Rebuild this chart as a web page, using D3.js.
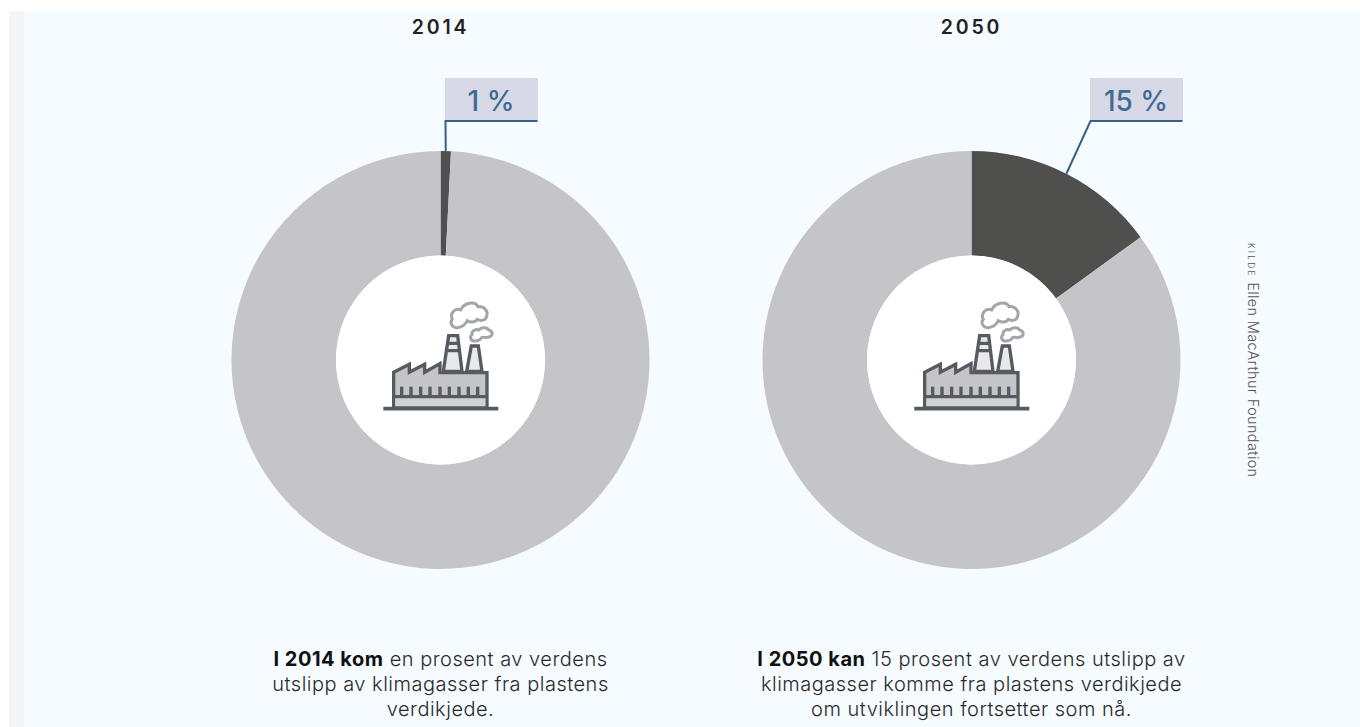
<!DOCTYPE html>
<html><head><meta charset="utf-8">
<script src="https://cdn.jsdelivr.net/npm/d3@7"></script>
<style>html,body{margin:0;padding:0;background:#fff}svg{display:block}text{font-family:Inter,sans-serif}</style>
</head><body><div id="c"></div>
<script>
const years = ["2014","2050"];
const shares = [0.8,15];
const labels = ["1 %","15 %"];
const captionBold = ["I 2014 kom","I 2050 kan"];
const captionFirst = [" en prosent av verdens"," 15 prosent av verdens utslipp av"];
const captionRest = [["utslipp av klimagasser fra plastens","verdikjede."],["klimagasser komme fra plastens verdikjede","om utviklingen fortsetter som nå."]];
const W=1360,H=727;
const svg=d3.select("#c").append("svg").attr("width",W).attr("height",H);
svg.append("rect").attr("x",9).attr("y",11).attr("width",15).attr("height",H-11).attr("fill","#f5f5f5");
svg.append("rect").attr("x",24).attr("y",11).attr("width",W-24).attr("height",H-11).attr("fill","#f6fbff");
const cxScale=d3.scaleOrdinal().domain(years).range([440.5,971.5]);
const pie=d3.pie().sort(null).value(d=>d);
const arc=d3.arc().innerRadius(104.5).outerRadius(209);
const leaderArc=d3.arc().innerRadius(209).outerRadius(209);
const boxX=[445,1090];
function icon(g){
  const c="#555b61", s=10;
  const ic=g.append("g").attr("transform","translate(-80.5,-80) scale(0.3333)").attr("stroke-linejoin","miter");
  ic.append("path").attr("d","M250 274L266 167H293L306 274Z").attr("fill","#e9e9eb").attr("stroke",c).attr("stroke-width",s);
  ic.append("path").attr("d","M262 190H297M258 212H301").attr("stroke",c).attr("stroke-width",s).attr("fill","none");
  ic.append("path").attr("d","M320 274L334 198H355L366 274Z").attr("fill","#e9e9eb").attr("stroke",c).attr("stroke-width",s);
  ic.append("path").attr("d","M101 383V277L148 253V277L194 253V277L240 251V278H381V383Z").attr("fill","#c5c5c9").attr("stroke",c).attr("stroke-width",s);
  ic.append("rect").attr("x",106).attr("y",354).attr("width",270).attr("height",25).attr("fill","#d2d2d6");
  ic.append("path").attr("d","M101 350H381").attr("stroke",c).attr("stroke-width",s);
  [125,153,182,210,240,268,297,325,353].forEach(x=>ic.append("path").attr("d",`M${x} 320V350`).attr("stroke",c).attr("stroke-width",10));
  ic.append("path").attr("d","M70 386H415").attr("stroke",c).attr("stroke-width",11);
  const cl="#a2a5a9";
  ic.append("path").attr("d","M292 143C276 144 268 128 277 118C268 100 285 82 302 90C312 68 345 62 354 80C372 78 386 94 380 108C378 122 362 124 352 118C344 130 328 126 322 122C316 134 304 142 292 143Z").attr("fill","#fff").attr("stroke",cl).attr("stroke-width",9);
  ic.append("path").attr("d","M342 183C332 182 328 170 336 164C334 152 348 146 356 150C364 140 382 142 386 150C398 152 400 166 390 170C380 176 372 170 366 172C360 182 350 184 342 183Z").attr("fill","#fff").attr("stroke",cl).attr("stroke-width",9);
}
years.forEach((y,i)=>{
  const cx=cxScale(y), cy=360;
  const g=svg.append("g").attr("transform",`translate(${cx},${cy})`);
  const arcs=pie([shares[i],100-shares[i]]);
  g.selectAll("path.s").data(arcs).join("path").attr("class","s").attr("d",arc).attr("fill",(d,j)=>j==0?"#4f4f4d":"#c5c5c9");
  g.append("circle").attr("r",104.5).attr("fill","#fff");
  icon(g);
  const p=leaderArc.centroid(arcs[0]);
  svg.append("rect").attr("x",boxX[i]).attr("y",78).attr("width",93).attr("height",43).attr("fill","#d8d9e6");
  svg.append("path").attr("d",`M${cx+p[0]} ${cy+p[1]}L${boxX[i]+0.5} 121H${boxX[i]+92.5}`).attr("fill","none").attr("stroke","#35608e").attr("stroke-width",2);
  svg.append("text").attr("x",boxX[i]+46).attr("y",111).attr("text-anchor","middle").attr("font-size",28).attr("font-weight",500).attr("fill","#3f6a94").text(labels[i]);
  svg.append("text").attr("x",cx).attr("y",33.5).attr("text-anchor","middle").attr("font-size",19.5).attr("font-weight",600).attr("letter-spacing",2.8).attr("fill","#222").text(y);
  const cap=svg.append("text").attr("x",cx).attr("y",666).attr("text-anchor","middle").attr("font-size",20).attr("letter-spacing",0.5).attr("fill","#2a2a2a");
  cap.append("tspan").attr("font-weight",700).attr("fill","#111").text(captionBold[i]);
  cap.append("tspan").attr("font-weight",300).text(captionFirst[i]);
  captionRest[i].forEach((l,k)=>svg.append("text").attr("x",cx).attr("y",691+k*25).attr("text-anchor","middle").attr("font-size",20).attr("letter-spacing",0.5).attr("font-weight",300).attr("fill","#2a2a2a").text(l));
});
const src=svg.append("text").attr("transform","translate(1248,243) rotate(90)").attr("fill","#555").attr("font-size",14.5).attr("font-weight",300);
src.append("tspan").attr("font-size",8.5).attr("letter-spacing",2.2).text("KILDE ");
src.append("tspan").attr("letter-spacing",0.35).text("Ellen MacArthur Foundation");
</script></body></html>
